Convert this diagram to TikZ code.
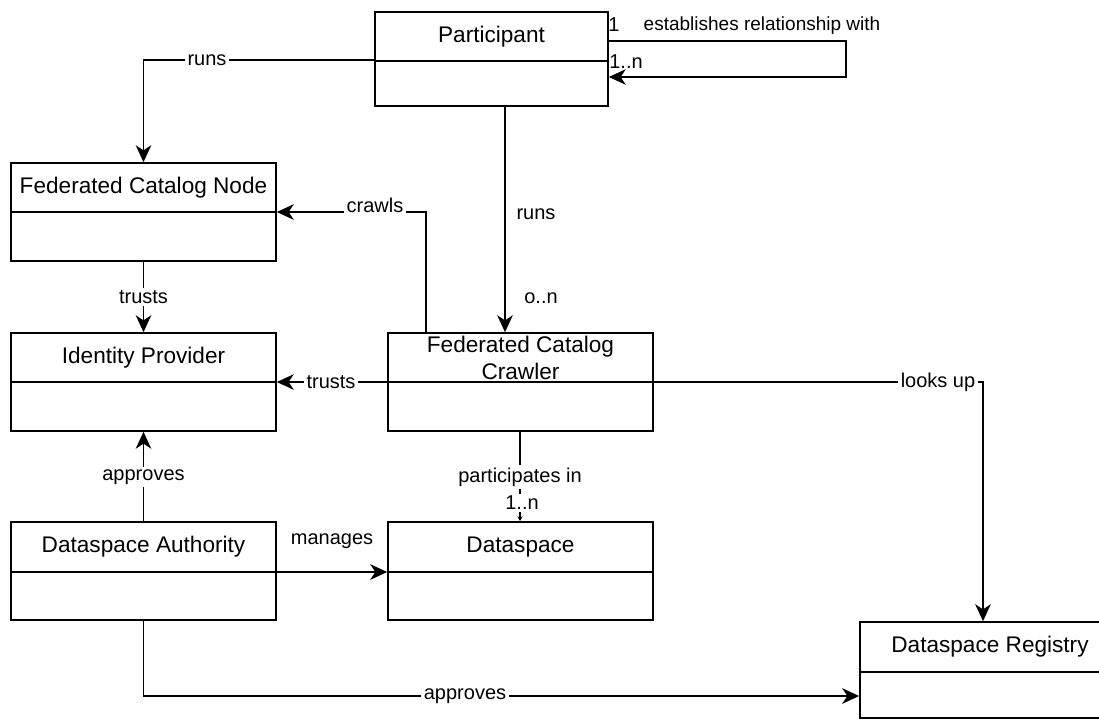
\documentclass[tikz,border=0pt]{standalone}
\usepackage{fontspec}
\setmainfont{Liberation Sans}
\usetikzlibrary{arrows.meta,fit}

\tikzset{
  x=0.5pt, y=-0.5pt,
  classbox/.style={draw, line width=0.8pt, inner sep=0pt, fill=white},
  classtitle/.style={font=\fontsize{11.3}{13.5}\selectfont, inner sep=0pt, align=center},
  rel/.style={line width=0.8pt, -{Stealth[length=8.5pt,width=7.8pt,inset=2.6pt]}},
  lbl/.style={font=\fontsize{10}{12}\selectfont, fill=white, inner sep=1.2pt},
  mult/.style={font=\fontsize{10}{12}\selectfont, inner sep=1pt},
}

% \umlclass{name}{x1}{y1}{x2}{y2}{divider y}{title}
\newcommand\umlclass[7]{%
  \node[classbox, fit={(#2,#3) (#4,#5)}] (#1) {};
  \draw[line width=0.8pt] (#1.west |- 0,#6) -- (#1.east |- 0,#6);
  \node[classtitle] (#1-t) at ({(#2+#4)/2},{(#3+#6)/2}) {#7};
}

\begin{document}
\begin{tikzpicture}
\clip (0,0) rectangle (1099,720);
\fill[white] (0,0) rectangle (1099,720);

% classes
\umlclass{p}{375}{12}{608}{106}{61}{Participant}
\umlclass{fcn}{11}{163}{276}{261}{212}{Federated Catalog Node}
\umlclass{idp}{11}{333}{276}{431}{382}{Identity Provider}
\umlclass{cr}{388}{333}{653}{431}{382}{Federated Catalog\\Crawler}
\umlclass{da}{11}{522}{276}{620}{572}{Dataspace Authority}
\umlclass{ds}{388}{522}{653}{620}{572}{Dataspace}
\umlclass{reg}{860}{622}{1120}{718}{672}{Dataspace Registry}

% Participant runs Federated Catalog Node
\draw[rel] (p.west |- 0,60) -| (fcn.north);
\node[lbl] (l-runs1) at (207,60) {runs};

% Participant runs Federated Catalog Crawler
\draw[rel] (p.south -| 505,0) -- (cr.north -| 505,0);
\node[mult] (l-runs2) at (536,214) {runs};
\node[mult] (l-on) at (541,298) {o..n};

% self association of Participant
\coordinate (loop1) at (846,41);
\coordinate (loop2) at (846,77);
\draw[rel] (p.east |- 0,41) -- (loop1) -- (loop2) -- (p.east |- 0,77);
\node[mult] (l-one) at (614,25) {1};
\node[mult, font=\fontsize{9.5}{12}\selectfont] (l-est) at (762,26) {establishes relationship with};
\node[mult] (l-onen) at (626,62) {1..n};

% Crawler crawls Federated Catalog Node
\draw[rel] (cr.north -| 426,0) |- (fcn.east |- 0,212);
\node[lbl] (l-crawls) at (375,205) {crawls};

% Federated Catalog Node trusts Identity Provider
\draw[rel] (fcn.south) -- (idp.north);
\node[lbl] (l-trusts1) at (143.5,297) {trusts};

% Crawler trusts Identity Provider
\draw[rel] (cr.west |- 0,382) -- (idp.east |- 0,382);
\node[lbl] (l-trusts2) at (331,382) {trusts};

% Crawler looks up Dataspace Registry
\draw[rel] (cr.east |- 0,382) -| (reg.north -| 983,0);
\node[lbl] (l-looks) at (938,382) {looks up};

% Crawler participates in Dataspace
\draw[line width=0.8pt, -{Stealth[length=2.5pt,width=2.6pt]}] (cr.south -| 520,0) -- (ds.north -| 520,0);
\node[lbl] (l-part) at (520,477) {participates in};
\node[lbl] (l-part-m) at (522,503) {1..n};

% Dataspace Authority approves Identity Provider
\draw[rel] (da.north) -- (idp.south);
\node[lbl] (l-appr1) at (143.5,477) {approves};

% Dataspace Authority manages Dataspace
\draw[rel] (da.east |- 0,572) -- (ds.west |- 0,572);
\node[mult] (l-man) at (332,541) {manages};

% Dataspace Authority approves Dataspace Registry
\draw[rel] (da.south) |- (reg.west |- 0,696);
\node[lbl] (l-appr2) at (465,696) {approves};
\end{tikzpicture}
\end{document}
